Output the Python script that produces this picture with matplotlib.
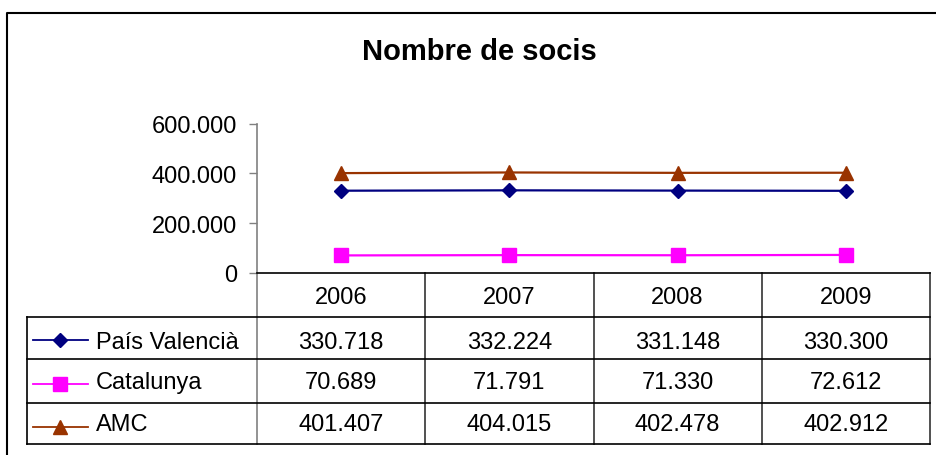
import matplotlib
matplotlib.use("Agg")
import matplotlib.pyplot as plt
import matplotlib.transforms as mtransforms

plt.rcParams['font.family'] = ['Liberation Sans', 'DejaVu Sans']

title = "Nombre de socis"
years = ["2006", "2007", "2008", "2009"]
series_names = ["País Valencià", "Catalunya", "AMC"]
pais_valencia = [330718, 332224, 331148, 330300]
catalunya = [70689, 71791, 71330, 72612]
amc = [401407, 404015, 402478, 402912]
yticks = [0, 200000, 400000, 600000]

series = [pais_valencia, catalunya, amc]
colors = ["#000080", "#FF00FF", "#993300"]
markers = ["D", "s", "^"]
msizes = [7.2, 10, 10]

def fmt(v):
    return f"{v:,}".replace(",", ".")

W, H = 937, 456
fig = plt.figure(figsize=(W / 100, H / 100), dpi=100)

# overlay axes in pixel coordinates
ov = fig.add_axes([0, 0, 1, 1], zorder=0)
ov.set_xlim(0, W)
ov.set_ylim(H, 0)
ov.axis('off')

# main plot area
L, R, T, B = 257, 930, 124.7, 274
ax = fig.add_axes([L / W, 1 - B / H, (R - L) / W, (B - T) / H], zorder=2)
ax.patch.set_alpha(0)
x = list(range(1, len(years) + 1))
for vals, c, m, ms in zip(series, colors, markers, msizes):
    ax.plot(x, vals, color=c, lw=1.6, marker=m, ms=ms, mec=c, mfc=c, clip_on=False)
ax.set_xlim(0.5, len(years) + 0.5)
ax.set_ylim(0, 600000)
ax.set_yticks(yticks)
ax.set_yticklabels([fmt(v) for v in yticks], fontsize=17)
ax.tick_params(axis='y', direction='out', length=5.8, width=1, color='#808080', pad=8.5)
ax.set_xticks([])
for s in ['top', 'right']:
    ax.spines[s].set_visible(False)
ax.spines['left'].set_color('#808080')
ax.spines['left'].set_linewidth(1.2)
ax.spines['bottom'].set_color('black')
ax.spines['bottom'].set_linewidth(1.2)

# outer border
ov.plot([7, 7, W + 5], [H + 5, 14, 14], color='black', lw=1.5, clip_on=False)

# title
ov.text(479.5, 60, title, ha='center', va='baseline', fontsize=21, fontweight='bold')

# data table (x in category data coords, y in pixels)
tr = mtransforms.blended_transform_factory(ax.transData, ov.transData)
row_lines = [318, 360, 404, 445]
top_y = 274
left_x = 27
n = len(years)
bounds = [i + 0.5 for i in range(n + 1)]
for i, bx in enumerate(bounds):
    ov.plot([bx, bx], [top_y, row_lines[-1]], color='#808080' if i == 0 else '#333333',
            lw=1.2, transform=tr, clip_on=False)
for ry in row_lines:
    ov.plot([left_x, R], [ry, ry], color='black', lw=1.2, clip_on=False)
ov.plot([left_x, left_x], [row_lines[0], row_lines[-1]], color='black', lw=1.2)

header_base = 304
row_bases = [349, 389, 431.5]
marker_y = [340.5, 385, 428]
for xi, yr in zip(x, years):
    ov.text(xi, header_base, yr, ha='center', va='baseline', fontsize=17, transform=tr)
for name, vals, c, m, ms, rb, my in zip(series_names, series, colors, markers, msizes, row_bases, marker_y):
    ov.plot([33, 88], [my, my], color=c, lw=1.3)
    ov.plot([60], [my], marker=m, ms=ms, color=c, mec=c)
    ov.text(96, rb, name, ha='left', va='baseline', fontsize=17)
    for xi, v in zip(x, vals):
        ov.text(xi, rb, fmt(v), ha='center', va='baseline', fontsize=17, transform=tr)

fig.savefig("out.png", dpi=100)
